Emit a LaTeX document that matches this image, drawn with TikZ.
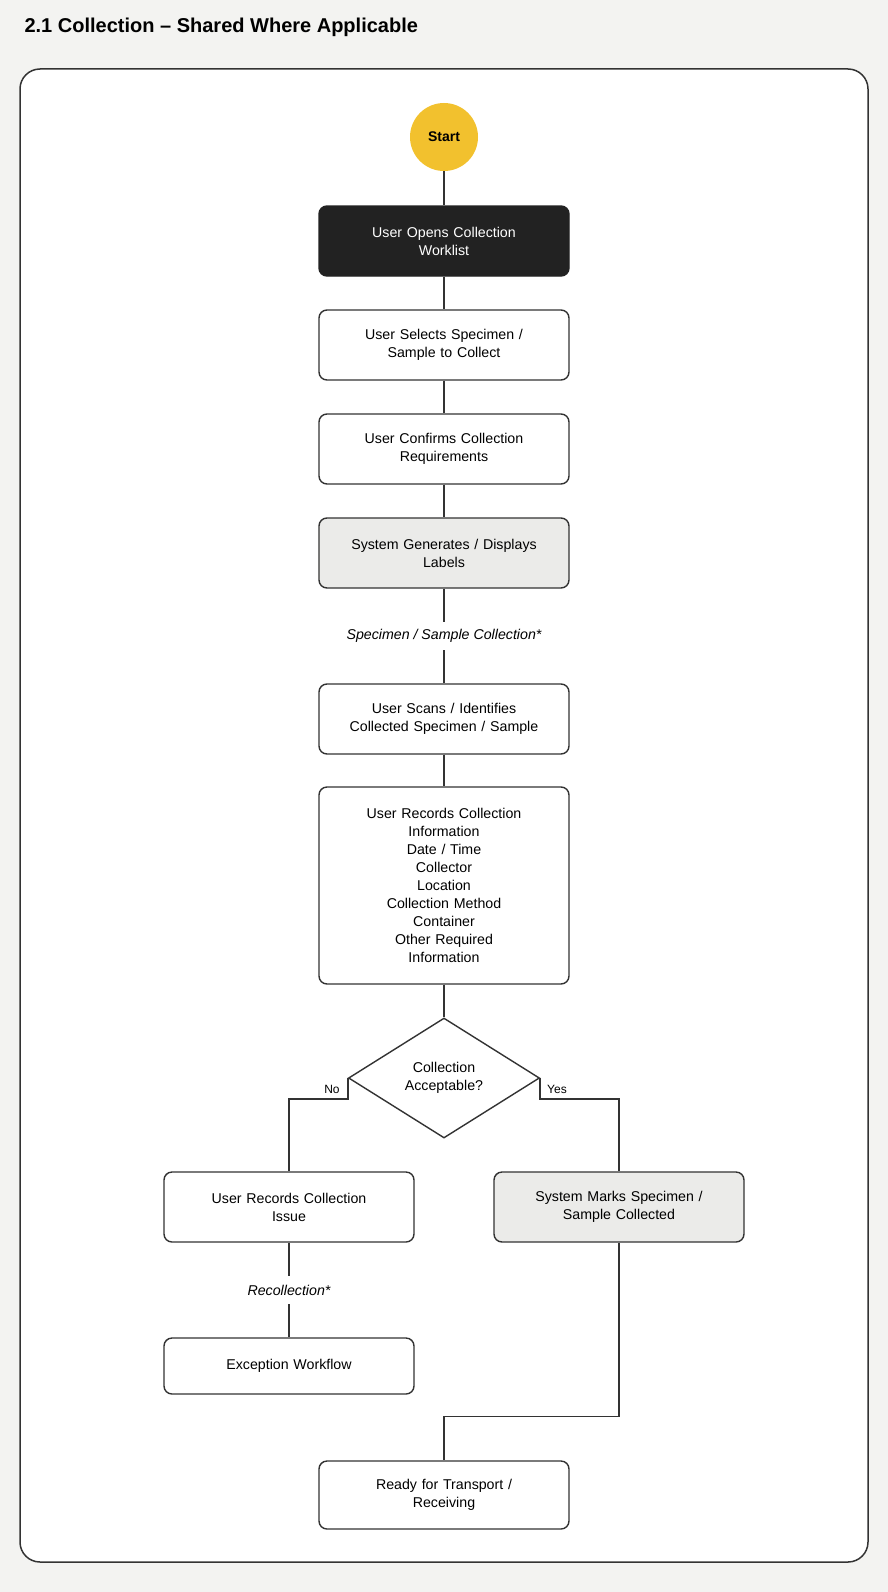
\documentclass[tikz,border=0pt]{standalone}
\usepackage{fontspec}
\setmainfont{Liberation Sans}
\usetikzlibrary{shapes.geometric}
\definecolor{pagebg}{HTML}{F3F3F1}
\definecolor{inkline}{HTML}{333333}
\definecolor{startyellow}{HTML}{F2C12E}
\definecolor{darkbox}{HTML}{222222}
\definecolor{sysgray}{HTML}{EBEBE9}
\begin{document}
\begin{tikzpicture}[x=1pt,y=-1pt,
    stepbox/.style={draw=inkline, line width=1.4pt, rounded corners=8pt, fill=white,
      minimum width=250pt, minimum height=70pt, text width=236pt, align=center,
      font=\fontsize{14.2}{18}\selectfont, inner sep=0pt},
    sysbox/.style={stepbox, fill=sysgray},
    link/.style={draw=inkline, line width=1.5pt},
    flowlabel/.style={font=\fontsize{14.2}{18}\selectfont\itshape, minimum height=28pt, inner sep=0pt},
    branch/.style={font=\fontsize{12}{14}\selectfont, inner sep=0pt}]
  \useasboundingbox[fill=pagebg] (0,0) rectangle (888,1592);
  \node[anchor=base west, font=\fontsize{20}{24}\selectfont\bfseries] (title) at (21,33) {2.1 Collection -- Shared Where Applicable};
  \draw[draw=inkline, line width=1.5pt, fill=white, rounded corners=20pt] (20,69) rectangle (868,1562);

  \node[circle, fill=startyellow, minimum size=68pt, inner sep=0pt, font=\fontsize{14}{18}\selectfont\bfseries] (start) at (444,137) {Start};
  \node[stepbox, fill=darkbox, draw=darkbox, text=white] (open) at (444,241) {User Opens Collection\\Worklist};
  \node[stepbox] (select) at (444,345) {User Selects Specimen /\\Sample to Collect};
  \node[stepbox] (confirm) at (444,449) {User Confirms Collection\\Requirements};
  \node[sysbox] (labels) at (444,553) {System Generates / Displays\\Labels};
  \node[flowlabel] (collect) at (444,636) {Specimen / Sample Collection*};
  \node[stepbox] (scan) at (444,719) {User Scans / Identifies\\Collected Specimen / Sample};
  \node[stepbox, minimum height=197pt] (record) at (444,885.5) {User Records Collection\\Information\\Date / Time\\Collector\\Location\\Collection Method\\Container\\Other Required\\Information};
  \node[diamond, draw=inkline, line width=1.4pt, fill=white, minimum width=191pt, minimum height=120pt, inner sep=0pt, align=center, font=\fontsize{14.2}{18}\selectfont] (accept) at (444,1078) {Collection\\Acceptable?};
  \node[stepbox] (issue) at (289,1207) {User Records Collection\\Issue};
  \node[sysbox] (marked) at (619,1207) {System Marks Specimen /\\Sample Collected};
  \node[flowlabel] (recollect) at (289,1290) {Recollection*};
  \node[stepbox, minimum height=56pt] (exception) at (289,1366) {Exception Workflow};
  \node[stepbox, minimum height=68pt] (ready) at (444,1495) {Ready for Transport /\\Receiving};

  \path[link] (start) -- (open);
  \path[link] (open) -- (select);
  \path[link] (select) -- (confirm);
  \path[link] (confirm) -- (labels);
  \path[link] (labels) -- (collect);
  \path[link] (collect) -- (scan);
  \path[link] (scan) -- (record);
  \path[link] (record) -- (accept);
  \path[link] (accept.west) -- ++(0,21) -| (issue.north);
  \path[link] (accept.east) -- ++(0,21) -| (marked.north);
  \path[link] (issue) -- (recollect);
  \path[link] (recollect) -- (exception);
  \path[link] (marked.south) -- ++(0,174) -| (ready.north);

  \node[branch] (no) at (332,1089) {No};
  \node[branch] (yes) at (557,1089) {Yes};
\end{tikzpicture}
\end{document}
